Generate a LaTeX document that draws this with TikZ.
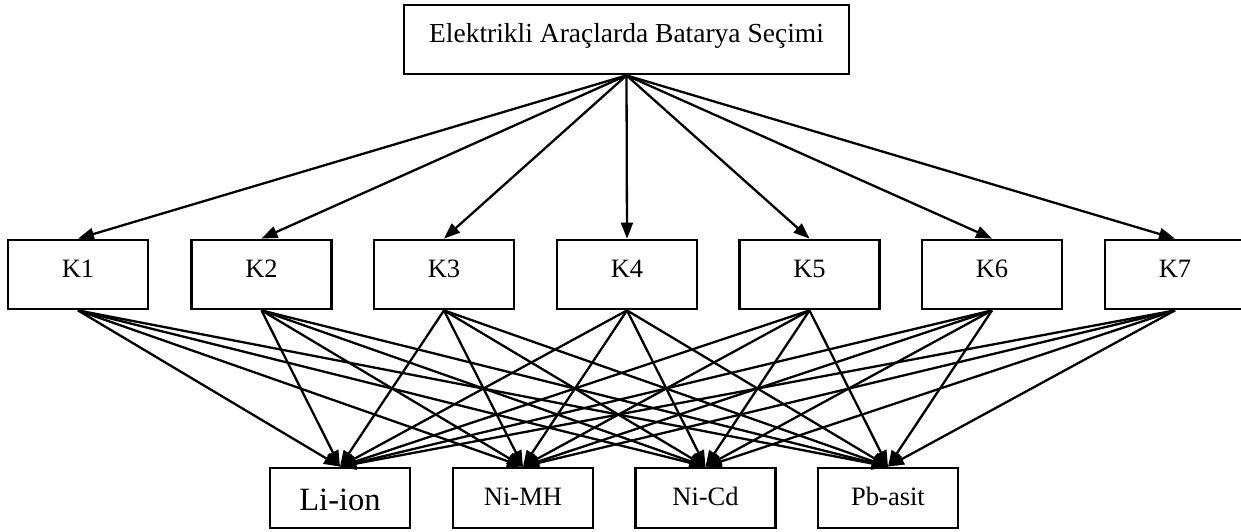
\documentclass[tikz,border=0pt]{standalone}
\usepackage{fontspec}
\setmainfont{Liberation Serif}
\usetikzlibrary{arrows.meta}
\begin{document}
\begin{tikzpicture}[x=1pt,y=-1pt,
 box/.style={draw,line width=2.8pt,minimum width=140pt,minimum height=69pt,inner sep=0pt,font=\fontsize{26.5}{30}\selectfont},
 crit/.style={box,text height=18pt,text depth=12.4pt},
 alt/.style={box,minimum height=60pt,text height=18pt,text depth=4pt},
 conn/.style={line width=2.3pt,-{Triangle[length=16pt,width=12pt]}}]
\useasboundingbox (0,0) rectangle (1241,531);
\clip (0,0) rectangle (1241,531);
\node[box,minimum width=445pt,text height=18pt,text depth=12pt,font=\fontsize{27.5}{31}\selectfont] (goal) at (626.5,39.5) {Elektrikli Araçlarda Batarya Seçimi};
\node[crit] (k1) at (78,274.5) {K1};
\node[crit] (k2) at (261.5,274.5) {K2};
\node[crit] (k3) at (444,274.5) {K3};
\node[crit] (k4) at (627,274.5) {K4};
\node[crit] (k5) at (809.5,274.5) {K5};
\node[crit] (k6) at (992,274.5) {K6};
\node[crit] (k7) at (1175,274.5) {K7};
\node[alt,text height=24pt,text depth=0pt,font=\fontsize{32.5}{37}\selectfont] (a1) at (340,498) {Li-ion};
\node[alt] (a2) at (523,498) {Ni-MH};
\node[alt] (a3) at (705.5,498) {Ni-Cd};
\node[alt] (a4) at (888,498) {Pb-asit};
\foreach \k in {k1,k2,k3,k4,k5,k6,k7}{
  \draw[conn] (goal.south) -- (\k.north);
  \foreach \a in {a1,a2,a3,a4}{
    \draw[conn] (\k.south) -- (\a.north);
  }
}
\end{tikzpicture}
\end{document}
